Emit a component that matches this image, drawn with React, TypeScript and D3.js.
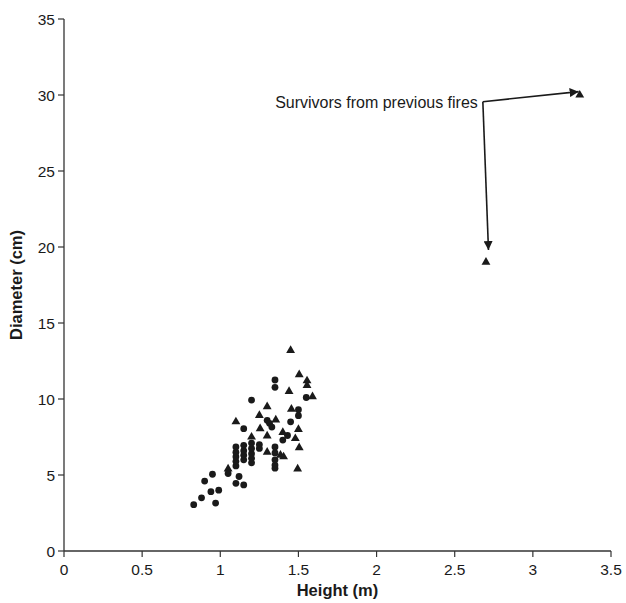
import React from 'react';
import * as d3 from 'd3';

// circles: [height (m), diameter (cm)]
const circlePts: [number, number][] = [
  [0.83, 3.05], [0.88, 3.5], [0.94, 3.9], [0.99, 4.0], [0.97, 3.15],
  [0.9, 4.6], [0.95, 5.05], [1.05, 5.1], [1.1, 4.45], [1.12, 4.9], [1.15, 4.35],
  [1.1, 5.6], [1.1, 5.9], [1.1, 6.2], [1.1, 6.5], [1.1, 6.85],
  [1.15, 6.0], [1.15, 6.3], [1.15, 6.6], [1.15, 6.95],
  [1.2, 5.8], [1.2, 6.1], [1.2, 6.4], [1.2, 6.75], [1.2, 7.1],
  [1.25, 6.75], [1.25, 7.0],
  [1.35, 5.45], [1.35, 5.65], [1.35, 6.0], [1.35, 6.45], [1.35, 6.85],
  [1.15, 8.05], [1.2, 9.93], [1.35, 10.77], [1.35, 11.25],
  [1.3, 8.6], [1.315, 8.4], [1.33, 8.15], [1.45, 8.5],
  [1.4, 7.3], [1.43, 7.6], [1.5, 9.3], [1.5, 8.9], [1.55, 10.1],
];

// triangles: [height (m), diameter (cm)]
const trianglePts: [number, number][] = [
  [1.05, 5.4], [1.1, 8.5], [1.25, 8.92], [1.45, 13.2], [1.505, 11.6],
  [1.555, 11.2], [1.555, 10.9], [1.44, 10.5], [1.59, 10.15], [1.3, 9.5],
  [1.455, 9.33], [1.255, 8.05], [1.3, 7.57], [1.355, 8.62], [1.4, 7.8],
  [1.5, 8.0], [1.48, 7.4], [1.505, 6.8], [1.2, 7.5], [1.3, 6.5],
  [1.385, 6.3], [1.405, 6.2], [1.495, 5.4],
  [2.7, 19.0], [3.3, 30.0],
];

const xTicks = [0, 0.5, 1, 1.5, 2, 2.5, 3, 3.5];
const yTicks = [0, 5, 10, 15, 20, 25, 30, 35];

// annotation arrow: elbow point and the two tips
const arrowElbow: [number, number] = [2.68, 29.56];
const arrowTips: [number, number][] = [[3.293, 30.22], [2.716, 19.8]];

const App = () => {
  const width = 626;
  const height = 603;
  const x = d3.scaleLinear().domain([0, 3.5]).range([64, 611]);
  const y = d3.scaleLinear().domain([0, 35]).range([551, 19]);
  const tri = d3.symbol().type(d3.symbolTriangle).size(34)();
  const font = 'Liberation Sans, Arial, sans-serif';
  const ink = '#1a1a1a';

  return (
    <svg width={width} height={height} style={{ position: 'absolute', left: 0, top: 0 }}
      fontFamily={font}>
      <defs>
        <marker id="head" viewBox="0 0 10 10" refX="10" refY="5" markerWidth="9" markerHeight="9"
          markerUnits="userSpaceOnUse" orient="auto">
          <path d="M0,0 L10,5 L0,10 z" fill={ink} />
        </marker>
      </defs>

      {/* axes */}
      <line x1={x(0)} x2={x(3.5)} y1={y(0)} y2={y(0)} stroke="#333" strokeWidth={1.3} />
      <line x1={x(0)} x2={x(0)} y1={y(0)} y2={y(35)} stroke="#333" strokeWidth={1.3} />
      {xTicks.map((t) => (
        <g key={'x' + t}>
          <line x1={x(t)} x2={x(t)} y1={y(0)} y2={y(0) + 6} stroke="#333" strokeWidth={1.2} />
          <text x={x(t)} y={y(0) + 24} textAnchor="middle" fontSize={15.5} fill={ink}>{t}</text>
        </g>
      ))}
      {yTicks.map((t) => (
        <g key={'y' + t}>
          <line x1={x(0) - 6} x2={x(0)} y1={y(t)} y2={y(t)} stroke="#333" strokeWidth={1.2} />
          <text x={x(0) - 9} y={y(t) + 5.5} textAnchor="end" fontSize={15.5} fill={ink}>{t}</text>
        </g>
      ))}

      {/* axis titles */}
      <text x={(x(0) + x(3.5)) / 2} y={596} textAnchor="middle" fontSize={16.5} fontWeight="bold" fill={ink}>
        Height (m)
      </text>
      <text transform={`translate(22, ${(y(0) + y(35)) / 2}) rotate(-90)`} textAnchor="middle"
        fontSize={16.5} fontWeight="bold" fill={ink}>
        Diameter (cm)
      </text>

      {/* points */}
      {circlePts.map(([h, d], i) => (
        <circle key={'c' + i} cx={x(h)} cy={y(d)} r={3.4} fill={ink} />
      ))}
      {trianglePts.map(([h, d], i) => (
        <path key={'t' + i} d={tri as string} transform={`translate(${x(h)},${y(d)})`} fill={ink} />
      ))}

      {/* annotation */}
      <text x={x(arrowElbow[0]) - 5} y={y(arrowElbow[1]) + 6} textAnchor="end" fontSize={16} fill={ink}>
        Survivors from previous fires
      </text>
      {arrowTips.map(([h, d], i) => (
        <line key={'a' + i} x1={x(arrowElbow[0])} y1={y(arrowElbow[1])} x2={x(h)} y2={y(d)}
          stroke={ink} strokeWidth={1.6} markerEnd="url(#head)" />
      ))}
    </svg>
  );
};

export default App;
